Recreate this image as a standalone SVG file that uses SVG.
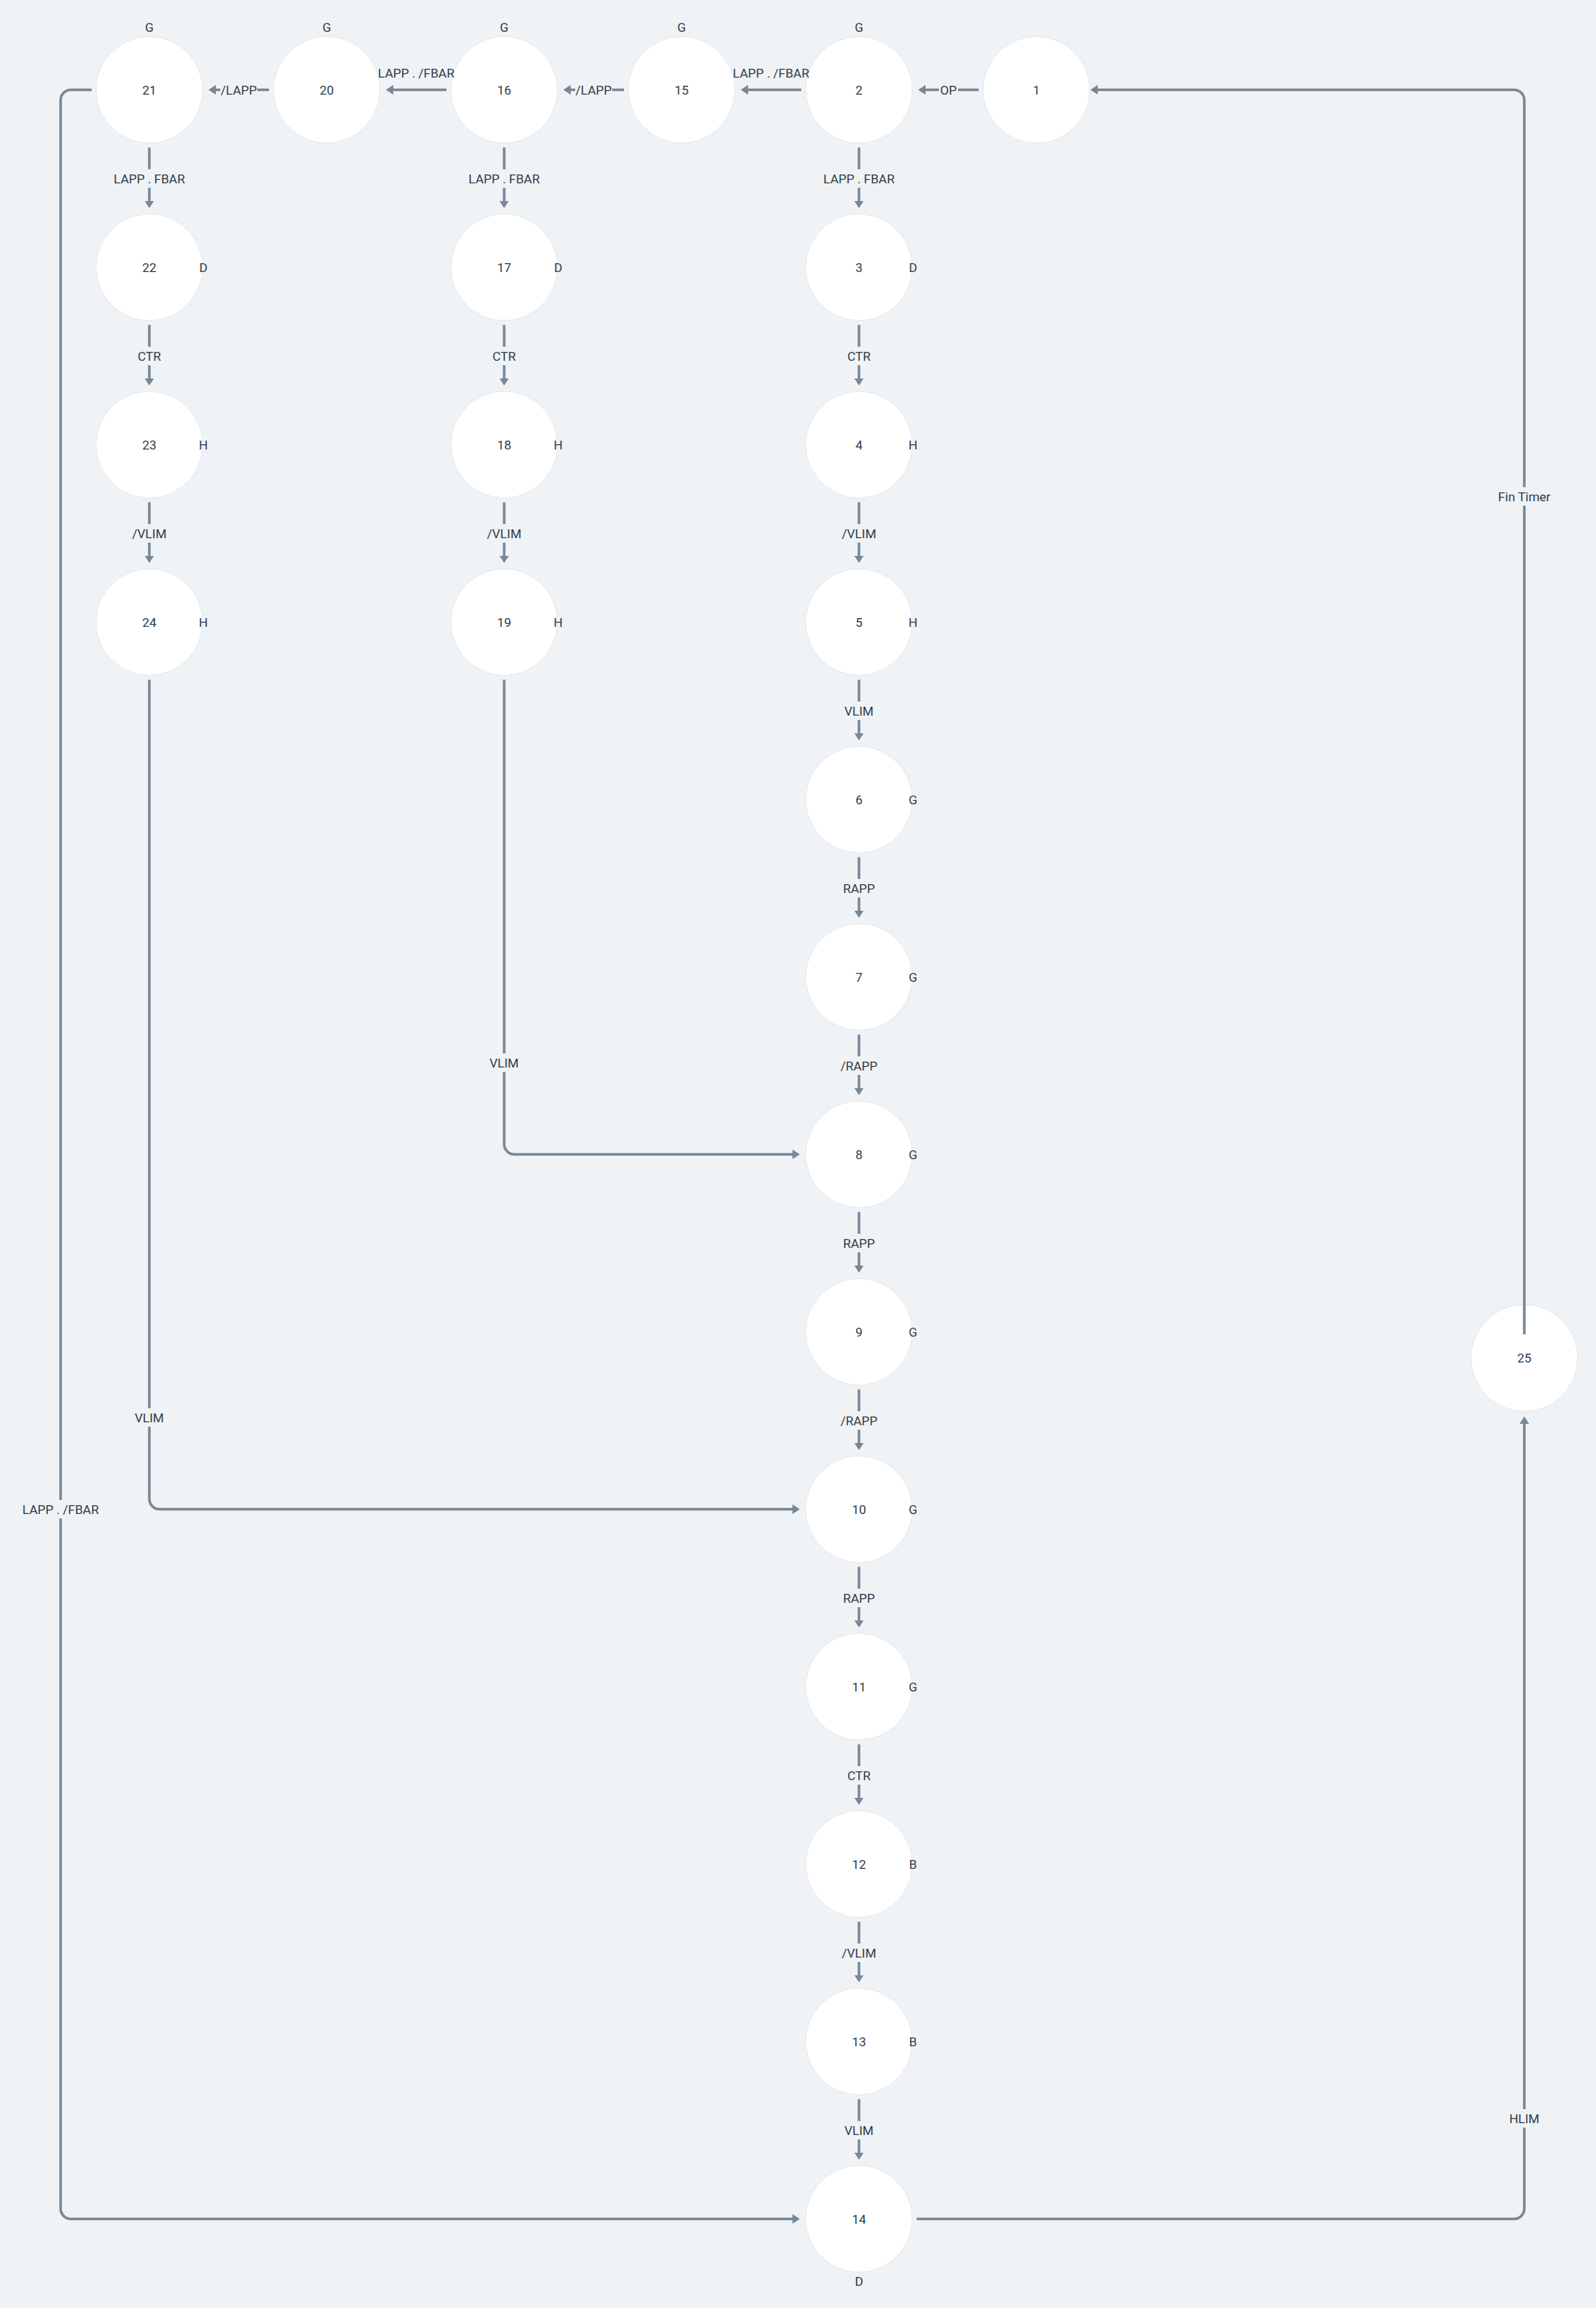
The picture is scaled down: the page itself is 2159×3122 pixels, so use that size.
<svg xmlns="http://www.w3.org/2000/svg" width="2159" height="3122" viewBox="0 0 2159 3122">
<style>
text{font-family:Roboto,"Liberation Sans",sans-serif;font-size:17px;fill:#2f3b48}
.n circle{fill:#ffffff;stroke:#e3e8ed;stroke-width:1}
.n text{text-anchor:middle}
.side{text-anchor:start}
.top{text-anchor:middle}
.e{fill:none;stroke:#778797;stroke-width:3.5;marker-end:url(#ah)}
.lb{fill:#eff3f6}
.el{text-anchor:middle}
</style>
<defs>
<marker id="ah" markerUnits="userSpaceOnUse" markerWidth="10" markerHeight="13" refX="7" refY="6.5" orient="auto">
<path d="M0,0 L10,6.5 L0,13 z" fill="#778797"/>
</marker>
</defs>
<rect width="2159" height="3122" fill="#eff3f6"/>

<g id="nodes">
<g id="n21" class="n"><circle cx="202" cy="121.5" r="72"/><text x="202" y="127.5">21</text><text class="top" x="202" y="42.5">G</text></g>
<g id="n20" class="n"><circle cx="442" cy="121.5" r="72"/><text x="442" y="127.5">20</text><text class="top" x="442" y="42.5">G</text></g>
<g id="n16" class="n"><circle cx="682" cy="121.5" r="72"/><text x="682" y="127.5">16</text><text class="top" x="682" y="42.5">G</text></g>
<g id="n15" class="n"><circle cx="922" cy="121.5" r="72"/><text x="922" y="127.5">15</text><text class="top" x="922" y="42.5">G</text></g>
<g id="n2" class="n"><circle cx="1162" cy="121.5" r="72"/><text x="1162" y="127.5">2</text><text class="top" x="1162" y="42.5">G</text></g>
<g id="n1" class="n"><circle cx="1402" cy="121.5" r="72"/><text x="1402" y="127.5">1</text></g>

<g id="n22" class="n"><circle cx="202" cy="361.5" r="72"/><text x="202" y="367.5">22</text><text class="side" x="275" y="367.5">D</text></g>
<g id="n23" class="n"><circle cx="202" cy="601.5" r="72"/><text x="202" y="607.5">23</text><text class="side" x="275" y="607.5">H</text></g>
<g id="n24" class="n"><circle cx="202" cy="841.5" r="72"/><text x="202" y="847.5">24</text><text class="side" x="275" y="847.5">H</text></g>

<g id="n17" class="n"><circle cx="682" cy="361.5" r="72"/><text x="682" y="367.5">17</text><text class="side" x="755" y="367.5">D</text></g>
<g id="n18" class="n"><circle cx="682" cy="601.5" r="72"/><text x="682" y="607.5">18</text><text class="side" x="755" y="607.5">H</text></g>
<g id="n19" class="n"><circle cx="682" cy="841.5" r="72"/><text x="682" y="847.5">19</text><text class="side" x="755" y="847.5">H</text></g>

<g id="n3" class="n"><circle cx="1162" cy="361.5" r="72"/><text x="1162" y="367.5">3</text><text class="side" x="1235" y="367.5">D</text></g>
<g id="n4" class="n"><circle cx="1162" cy="601.5" r="72"/><text x="1162" y="607.5">4</text><text class="side" x="1235" y="607.5">H</text></g>
<g id="n5" class="n"><circle cx="1162" cy="841.5" r="72"/><text x="1162" y="847.5">5</text><text class="side" x="1235" y="847.5">H</text></g>
<g id="n6" class="n"><circle cx="1162" cy="1081.5" r="72"/><text x="1162" y="1087.5">6</text><text class="side" x="1235" y="1087.5">G</text></g>
<g id="n7" class="n"><circle cx="1162" cy="1321.5" r="72"/><text x="1162" y="1327.5">7</text><text class="side" x="1235" y="1327.5">G</text></g>
<g id="n8" class="n"><circle cx="1162" cy="1561.5" r="72"/><text x="1162" y="1567.5">8</text><text class="side" x="1235" y="1567.5">G</text></g>
<g id="n9" class="n"><circle cx="1162" cy="1801.5" r="72"/><text x="1162" y="1807.5">9</text><text class="side" x="1235" y="1807.5">G</text></g>
<g id="n10" class="n"><circle cx="1162" cy="2041.5" r="72"/><text x="1162" y="2047.5">10</text><text class="side" x="1235" y="2047.5">G</text></g>
<g id="n11" class="n"><circle cx="1162" cy="2281.5" r="72"/><text x="1162" y="2287.5">11</text><text class="side" x="1235" y="2287.5">G</text></g>
<g id="n12" class="n"><circle cx="1162" cy="2521.5" r="72"/><text x="1162" y="2527.5">12</text><text class="side" x="1235" y="2527.5">B</text></g>
<g id="n13" class="n"><circle cx="1162" cy="2761.5" r="72"/><text x="1162" y="2767.5">13</text><text class="side" x="1235" y="2767.5">B</text></g>
<g id="n14" class="n"><circle cx="1162" cy="3001.5" r="72"/><text x="1162" y="3007.5">14</text><text class="top" x="1162" y="3091.5">D</text></g>

<g id="n25" class="n"><circle cx="2062" cy="1837" r="72"/><text x="2062" y="1843">25</text></g>
</g>

<g id="connectors">
<!-- row 0 horizontal -->
<path class="e" d="M1324,121.5 H1245"/>
<path class="e" d="M1084,121.5 H1005"/>
<path class="e" d="M844,121.5 H765"/>
<path class="e" d="M604,121.5 H525"/>
<path class="e" d="M364,121.5 H285"/>
<rect class="lb" x="1270" y="109" width="26" height="25"/><text class="el" x="1283" y="127.5">OP</text>
<text class="el" x="1043" y="105">LAPP . /FBAR</text>
<rect class="lb" x="778" y="109" width="50" height="25"/><text class="el" x="803" y="127.5">/LAPP</text>
<text class="el" x="563" y="105">LAPP . /FBAR</text>
<rect class="lb" x="298" y="109" width="50" height="25"/><text class="el" x="323" y="127.5">/LAPP</text>

<!-- column 202 -->
<path class="e" d="M202,199.5 V278.5"/>
<rect class="lb" x="152" y="229" width="100" height="25"/><text class="el" x="202" y="247.5">LAPP . FBAR</text>
<path class="e" d="M202,439.5 V518.5"/>
<rect class="lb" x="182" y="469" width="40" height="25"/><text class="el" x="202" y="487.5">CTR</text>
<path class="e" d="M202,679.5 V758.5"/>
<rect class="lb" x="178" y="709" width="48" height="25"/><text class="el" x="202" y="727.5">/VLIM</text>

<!-- column 682 -->
<path class="e" d="M682,199.5 V278.5"/>
<rect class="lb" x="632" y="229" width="100" height="25"/><text class="el" x="682" y="247.5">LAPP . FBAR</text>
<path class="e" d="M682,439.5 V518.5"/>
<rect class="lb" x="662" y="469" width="40" height="25"/><text class="el" x="682" y="487.5">CTR</text>
<path class="e" d="M682,679.5 V758.5"/>
<rect class="lb" x="658" y="709" width="48" height="25"/><text class="el" x="682" y="727.5">/VLIM</text>

<!-- column 1162 -->
<path class="e" d="M1162,199.5 V278.5"/>
<rect class="lb" x="1112" y="229" width="100" height="25"/><text class="el" x="1162" y="247.5">LAPP . FBAR</text>
<path class="e" d="M1162,439.5 V518.5"/>
<rect class="lb" x="1142" y="469" width="40" height="25"/><text class="el" x="1162" y="487.5">CTR</text>
<path class="e" d="M1162,679.5 V758.5"/>
<rect class="lb" x="1138" y="709" width="48" height="25"/><text class="el" x="1162" y="727.5">/VLIM</text>
<path class="e" d="M1162,919.5 V998.5"/>
<rect class="lb" x="1140" y="949" width="44" height="25"/><text class="el" x="1162" y="967.5">VLIM</text>
<path class="e" d="M1162,1159.5 V1238.5"/>
<rect class="lb" x="1138" y="1189" width="48" height="25"/><text class="el" x="1162" y="1207.5">RAPP</text>
<path class="e" d="M1162,1399.5 V1478.5"/>
<rect class="lb" x="1134" y="1429" width="56" height="25"/><text class="el" x="1162" y="1447.5">/RAPP</text>
<path class="e" d="M1162,1639.5 V1718.5"/>
<rect class="lb" x="1138" y="1669" width="48" height="25"/><text class="el" x="1162" y="1687.5">RAPP</text>
<path class="e" d="M1162,1879.5 V1958.5"/>
<rect class="lb" x="1134" y="1909" width="56" height="25"/><text class="el" x="1162" y="1927.5">/RAPP</text>
<path class="e" d="M1162,2119.5 V2198.5"/>
<rect class="lb" x="1138" y="2149" width="48" height="25"/><text class="el" x="1162" y="2167.5">RAPP</text>
<path class="e" d="M1162,2359.5 V2438.5"/>
<rect class="lb" x="1142" y="2389" width="40" height="25"/><text class="el" x="1162" y="2407.5">CTR</text>
<path class="e" d="M1162,2599.5 V2678.5"/>
<rect class="lb" x="1138" y="2629" width="48" height="25"/><text class="el" x="1162" y="2647.5">/VLIM</text>
<path class="e" d="M1162,2839.5 V2918.5"/>
<rect class="lb" x="1140" y="2869" width="44" height="25"/><text class="el" x="1162" y="2887.5">VLIM</text>

<!-- long edges -->
<path class="e" d="M682,919.5 V1547.5 A14,14 0 0 0 696,1561.5 H1079"/>
<rect class="lb" x="660" y="1425" width="44" height="25"/><text class="el" x="682" y="1443.5">VLIM</text>

<path class="e" d="M202,919.5 V2027.5 A14,14 0 0 0 216,2041.5 H1079"/>
<rect class="lb" x="180" y="1905" width="44" height="25"/><text class="el" x="202" y="1923.5">VLIM</text>

<path class="e" d="M124,121.5 H96 A14,14 0 0 0 82,135.5 V2987.5 A14,14 0 0 0 96,3001.5 H1079"/>
<rect class="lb" x="30" y="2029" width="104" height="25"/><text class="el" x="82" y="2047.5">LAPP . /FBAR</text>

<path class="e" d="M1240,3001.5 H2048 A14,14 0 0 0 2062,2987.5 V1919"/>
<rect class="lb" x="2040" y="2853" width="44" height="25"/><text class="el" x="2062" y="2871.5">HLIM</text>

<path class="e" d="M2062,1805 V135.5 A14,14 0 0 0 2048,121.5 H1478"/>
<rect class="lb" x="2022" y="659" width="80" height="25"/><text class="el" x="2062" y="677.5">Fin Timer</text>
</g>
</svg>
